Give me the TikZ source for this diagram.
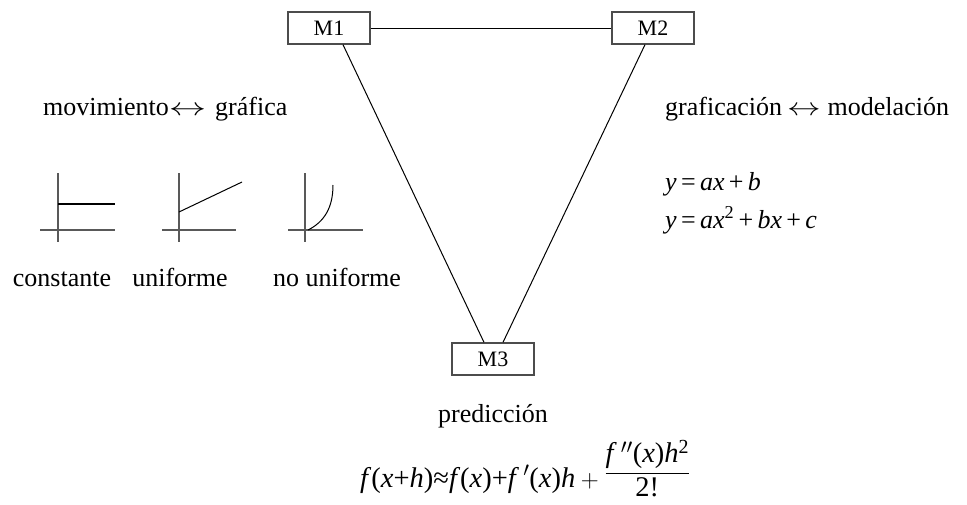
\documentclass[tikz,border=0pt]{standalone}
\usepackage{graphicx}
\usepackage{fontspec}
\setmainfont{Liberation Serif}[Ligatures=CommonOff]
\begin{document}
\begin{tikzpicture}[x=1pt,y=-1pt,
  mbox/.style={draw=black!70, line width=1.3pt, minimum width=82pt, minimum height=32pt, inner sep=0pt, font=\fontsize{22}{26}\selectfont},
  lbl/.style={inner sep=0pt, font=\fontsize{26}{30}\selectfont},
  axis/.style={draw=black!65, line width=1.3pt},
  curve/.style={draw=black, line width=1pt},
  conn/.style={draw=black, line width=1pt}]
\useasboundingbox (0,0) rectangle (967,504);
\node[mbox] (m1) at (329,28) {M1};
\node[mbox] (m2) at (653,28) {M2};
\node[mbox] (m3) at (493,359) {M3};
\draw[conn] (m1) -- (m2);
\draw[conn] ([xshift=14pt]m1.south) -- ([xshift=-9pt]m3.north);
\draw[conn] ([xshift=-8pt]m2.south) -- ([xshift=10pt]m3.north);

\node[lbl, anchor=base west] (t1) at (43,115) {movimiento\scalebox{1.5}[1]{$\leftrightarrow$}\hspace{9pt}gráfica};
\node[lbl, anchor=base west] (t2) at (665,115) {graficación\hspace{5pt}\scalebox{1.35}[1]{$\leftrightarrow$}\hspace{7pt}modelación};
\node[lbl, anchor=base west] (e1) at (665,190) {\textit{y}\,=\,\textit{ax}\,+\,\textit{b}};
\node[lbl, anchor=base west] (e2) at (665,228) {\textit{y}\,=\,\textit{ax}\textsuperscript{2}\,+\,\textit{bx}\,+\,\textit{c}};

% graph 1
\draw[axis] (58,173) -- (58,242);
\draw[axis] (40,230) -- (115,230);
\draw[draw=black, line width=1.6pt] (58,204) -- (115,204);
% graph 2
\draw[axis] (179,173) -- (179,242);
\draw[axis] (162,230) -- (236,230);
\draw[curve] (179,212) -- (242,182);
% graph 3
\draw[axis] (305,173) -- (305,242);
\draw[axis] (288,230) -- (363,230);
\draw[curve] (308,230) .. controls (324,222) and (333,208) .. (333,185);

\node[lbl, anchor=base] (c1) at (62,286) {constante};
\node[lbl, anchor=base] (c2) at (180,286) {uniforme};
\node[lbl, anchor=base west] (c3) at (273,286) {no uniforme};

\node[lbl, anchor=base west] (p) at (438,422) {predicción};
\node[lbl, anchor=base west, font=\fontsize{28.5}{32}\selectfont] (f) at (360,487) {$\displaystyle\mbox{\textit{f}(\textit{x}+\textit{h})≈\textit{f}(\textit{x})+\textit{f}}\,'\mbox{(\textit{x})\textit{h}}+\raisebox{8pt}{$\displaystyle\frac{\mbox{\textit{f}}\,''\mbox{(\textit{x})\textit{h}\textsuperscript{2}}}{\mbox{2!}}$}$};
\end{tikzpicture}
\end{document}
